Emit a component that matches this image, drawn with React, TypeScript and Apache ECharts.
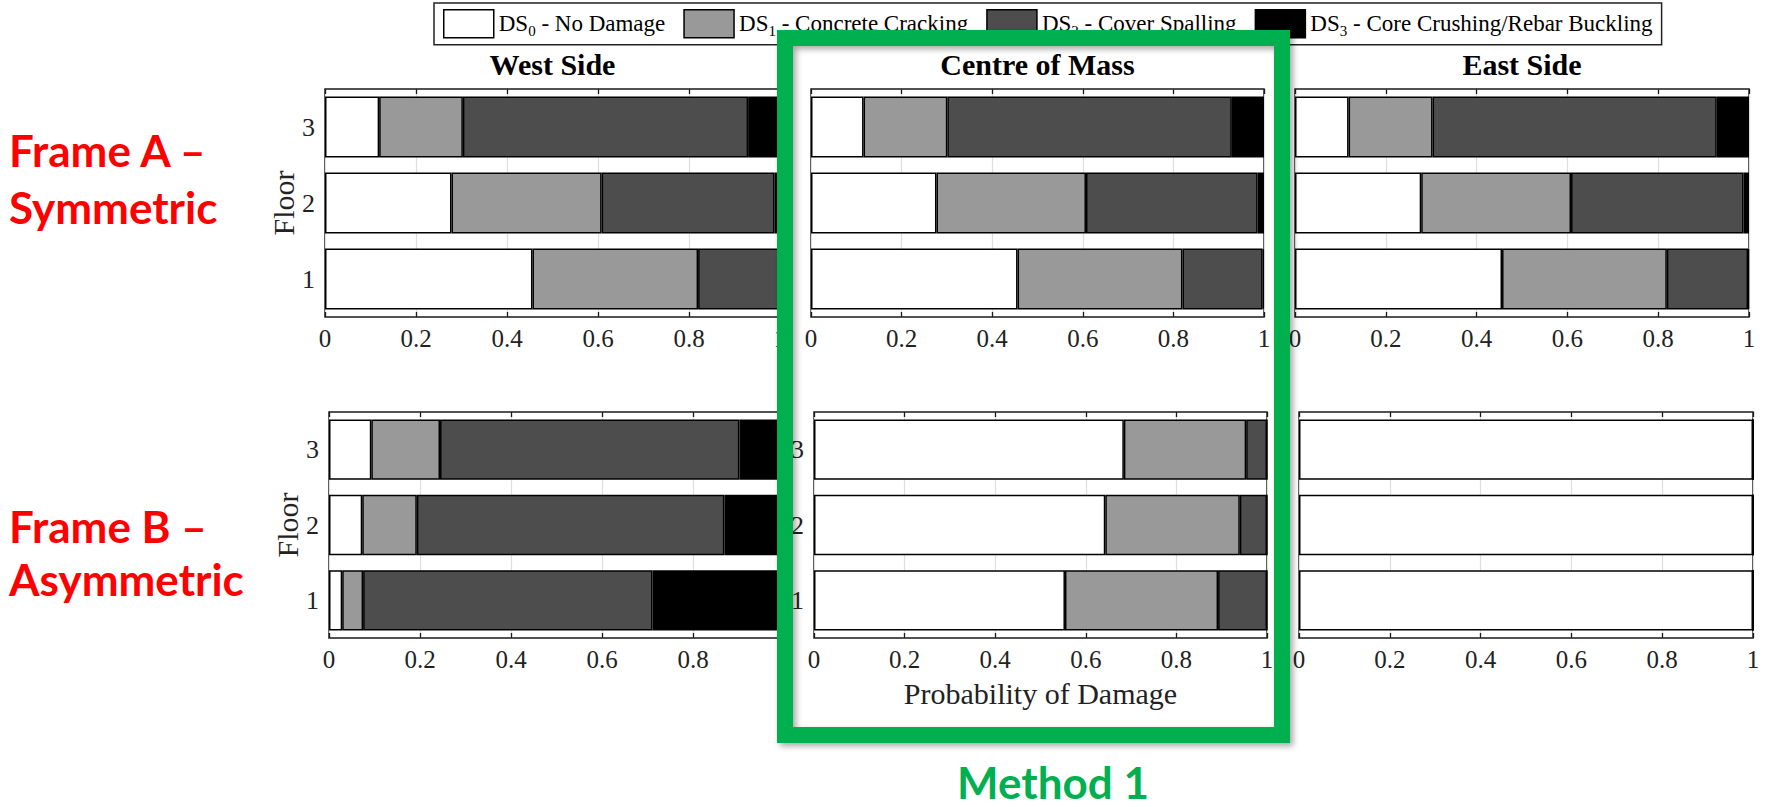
import React, { useEffect, useRef } from 'react';
import * as echarts from 'echarts';

// ---------- data ----------
const FLOORS = ['1', '2', '3'];
const DS_NAMES = ['DS0', 'DS1', 'DS2', 'DS3'];
const DS_SUBS = ['0', '1', '2', '3'];
const DS_LABELS = ['No Damage', 'Concrete Cracking', 'Cover Spalling', 'Core Crushing/Rebar Buckling'];
const DS_COLORS = ['#ffffff', '#999999', '#4d4d4d', '#000000'];
const PANEL_TITLES = ['West Side', 'Centre of Mass', 'East Side'];
const ROW_LABELS = [['Frame A –', 'Symmetric'], ['Frame B –', 'Asymmetric']];
const X_NAME = 'Probability of Damage';
const Y_NAME = 'Floor';
const METHOD_LABEL = 'Method 1';

// values per floor: [floor 1, floor 2, floor 3]
// Frame A - West Side
const A_WEST_DS0 = [0.456, 0.278, 0.119];
const A_WEST_DS1 = [0.364, 0.330, 0.184];
const A_WEST_DS2 = [0.177, 0.380, 0.627];
const A_WEST_DS3 = [0.003, 0.012, 0.070];
// Frame A - Centre of Mass
const A_CENTRE_DS0 = [0.456, 0.277, 0.116];
const A_CENTRE_DS1 = [0.364, 0.330, 0.185];
const A_CENTRE_DS2 = [0.177, 0.379, 0.628];
const A_CENTRE_DS3 = [0.003, 0.014, 0.071];
// Frame A - East Side
const A_EAST_DS0 = [0.456, 0.278, 0.118];
const A_EAST_DS1 = [0.363, 0.330, 0.185];
const A_EAST_DS2 = [0.179, 0.380, 0.626];
const A_EAST_DS3 = [0.002, 0.012, 0.071];
// Frame B - West Side
const B_WEST_DS0 = [0.029, 0.073, 0.093];
const B_WEST_DS1 = [0.046, 0.120, 0.151];
const B_WEST_DS2 = [0.636, 0.676, 0.658];
const B_WEST_DS3 = [0.289, 0.131, 0.098];
// Frame B - Centre of Mass
const B_CENTRE_DS0 = [0.554, 0.643, 0.684];
const B_CENTRE_DS1 = [0.338, 0.297, 0.270];
const B_CENTRE_DS2 = [0.108, 0.060, 0.046];
const B_CENTRE_DS3 = [0, 0, 0];
// Frame B - East Side
const B_EAST_DS0 = [1, 1, 1];
const B_EAST_DS1 = [0, 0, 0];
const B_EAST_DS2 = [0, 0, 0];
const B_EAST_DS3 = [0, 0, 0];

// ---------- layout ----------
const W = 1766;
const H = 807;
const SERIF = '"Liberation Serif", "Times New Roman", serif';
const SANS = 'Lato, "Noto Sans", sans-serif';
const GRIDS = [
  { left: 325, top: 89, width: 455, height: 228 },
  { left: 811, top: 89, width: 453, height: 228 },
  { left: 1295, top: 89, width: 454, height: 228 },
  { left: 329, top: 412, width: 455, height: 226 },
  { left: 814, top: 412, width: 453, height: 226 },
  { left: 1299, top: 412, width: 454, height: 226 },
];

function buildOption() {
  const panels = [
    [A_WEST_DS0, A_WEST_DS1, A_WEST_DS2, A_WEST_DS3],
    [A_CENTRE_DS0, A_CENTRE_DS1, A_CENTRE_DS2, A_CENTRE_DS3],
    [A_EAST_DS0, A_EAST_DS1, A_EAST_DS2, A_EAST_DS3],
    [B_WEST_DS0, B_WEST_DS1, B_WEST_DS2, B_WEST_DS3],
    [B_CENTRE_DS0, B_CENTRE_DS1, B_CENTRE_DS2, B_CENTRE_DS3],
    [B_EAST_DS0, B_EAST_DS1, B_EAST_DS2, B_EAST_DS3],
  ];
  const isCentre = (g: number) => g % 3 === 1;
  const isWest = (g: number) => g % 3 === 0;

  const grid: any[] = [];
  const xAxis: any[] = [];
  const yAxis: any[] = [];
  const series: any[] = [];

  GRIDS.forEach((b, g) => {
    const z = isCentre(g) ? 20 : 0;
    grid.push({
      ...b,
      show: true,
      borderColor: '#1a1a1a',
      borderWidth: 1.5,
      backgroundColor: 'transparent',
      z,
    });
    xAxis.push({
      gridIndex: g,
      type: 'value',
      min: 0,
      max: 1,
      interval: 0.2,
      position: 'bottom',
      z,
      axisLine: { show: false },
      axisTick: { show: true, inside: true, length: 5, lineStyle: { color: '#1a1a1a', width: 1.3 } },
      axisLabel: {
        fontFamily: SERIF,
        fontSize: 25,
        color: '#222',
        margin: 9,
        formatter: (v: number) => String(Math.round(v * 10) / 10),
      },
      splitLine: { show: true, lineStyle: { color: '#dedede', width: 1.2 } },
      name: g === 4 ? X_NAME : '',
      nameLocation: 'middle',
      nameGap: 40,
      nameTextStyle: { fontFamily: SERIF, fontSize: 30, color: '#222' },
    });
    xAxis.push({
      gridIndex: g,
      type: 'value',
      min: 0,
      max: 1,
      interval: 0.2,
      position: 'top',
      z,
      axisLine: { show: false },
      axisTick: { show: true, inside: true, length: 5, lineStyle: { color: '#1a1a1a', width: 1.3 } },
      axisLabel: { show: false },
      splitLine: { show: false },
    });
    const showY = isWest(g) || g === 4;
    yAxis.push({
      gridIndex: g,
      type: 'category',
      data: FLOORS,
      z,
      axisLine: { show: false },
      axisTick: { show: false },
      axisLabel: { show: showY, fontFamily: SERIF, fontSize: 26, color: '#222', margin: 10 },
      name: isWest(g) ? Y_NAME : '',
      nameLocation: 'middle',
      nameRotate: 90,
      nameGap: 26,
      nameTextStyle: { fontFamily: SERIF, fontSize: 30, color: '#222' },
    });
    panels[g].forEach((vals, k) => {
      series.push({
        type: 'bar',
        name: DS_NAMES[k],
        stack: 'panel' + g,
        xAxisIndex: 2 * g,
        yAxisIndex: g,
        data: vals,
        barCategoryGap: '20%',
        z: isCentre(g) ? 22 : 2,
        silent: true,
        itemStyle: { color: DS_COLORS[k], borderColor: '#000', borderWidth: 1.5 },
      });
    });
  });

  const titles = PANEL_TITLES.map((t, i) => ({
    text: t,
    left: GRIDS[i].left + GRIDS[i].width / 2,
    top: 49,
    textAlign: 'center',
    padding: 0,
    z: 30,
    textStyle: { fontFamily: SERIF, fontWeight: 'bold', fontSize: 30, color: '#000' },
  }));

  const rowY = [[150, 207], [526, 579]];
  const graphicEls: any[] = [];
  ROW_LABELS.forEach((lines, r) => {
    lines.forEach((line, li) => {
      graphicEls.push({
        type: 'text',
        x: 9,
        y: rowY[r][li],
        z: 50,
        silent: true,
        style: {
          text: line,
          fill: '#ff0000',
          fontFamily: SANS,
          fontWeight: 'bold',
          fontSize: 44,
          align: 'left',
          verticalAlign: 'middle',
        },
      });
    });
  });
  // white interior of the highlight box
  graphicEls.push({
    type: 'rect',
    z: 10,
    silent: true,
    shape: { x: 793, y: 46, width: 480, height: 681 },
    style: { fill: '#ffffff' },
  });
  // green highlight frame
  graphicEls.push({
    type: 'rect',
    z: 60,
    silent: true,
    shape: { x: 785, y: 38, width: 497, height: 697 },
    style: {
      fill: 'none',
      stroke: '#00b050',
      lineWidth: 16,
      shadowBlur: 6,
      shadowColor: 'rgba(0,0,0,0.35)',
      shadowOffsetX: 3,
      shadowOffsetY: 3,
    },
  });
  graphicEls.push({
    type: 'text',
    x: 1053,
    y: 782,
    z: 60,
    silent: true,
    style: {
      text: METHOD_LABEL,
      fill: '#00b050',
      fontFamily: SANS,
      fontWeight: 'bold',
      fontSize: 44,
      align: 'center',
      verticalAlign: 'middle',
    },
  });

  return {
    animation: false,
    backgroundColor: '#ffffff',
    title: titles,
    legend: {
      data: DS_NAMES,
      left: 434,
      top: 3,
      orient: 'horizontal',
      icon: 'rect',
      itemWidth: 50,
      itemHeight: 28,
      itemGap: 18,
      padding: [6, 9, 6, 9],
      borderColor: '#222',
      borderWidth: 1.5,
      backgroundColor: '#ffffff',
      selectedMode: false,
      z: 4,
      itemStyle: { borderColor: '#000', borderWidth: 1.5 },
      formatter: (name: string) => {
        const k = DS_NAMES.indexOf(name);
        return `{m|DS}{s|${DS_SUBS[k]}}{m| - ${DS_LABELS[k]}}`;
      },
      textStyle: {
        fontFamily: 'Liberation Serif',
        fontSize: 23,
        color: '#000',
        rich: {
          m: { fontFamily: 'Liberation Serif', fontSize: 23, color: '#000', lineHeight: 24, verticalAlign: 'top' },
          s: { fontFamily: 'Liberation Serif', fontSize: 15, color: '#000', lineHeight: 15, padding: [12, 0, 0, 0], verticalAlign: 'top' },
        },
      },
    },
    grid,
    xAxis,
    yAxis,
    series,
    graphic: { elements: graphicEls },
  };
}

export default function App() {
  const ref = useRef<HTMLDivElement>(null);
  useEffect(() => {
    if (!ref.current) return;
    const chart = echarts.init(ref.current, null, { renderer: 'svg' });
    chart.setOption(buildOption() as any);
    return () => chart.dispose();
  }, []);
  return (
    <div
      ref={ref}
      style={{ position: 'absolute', left: 0, top: 0, width: W, height: H, background: '#fff' }}
    />
  );
}
